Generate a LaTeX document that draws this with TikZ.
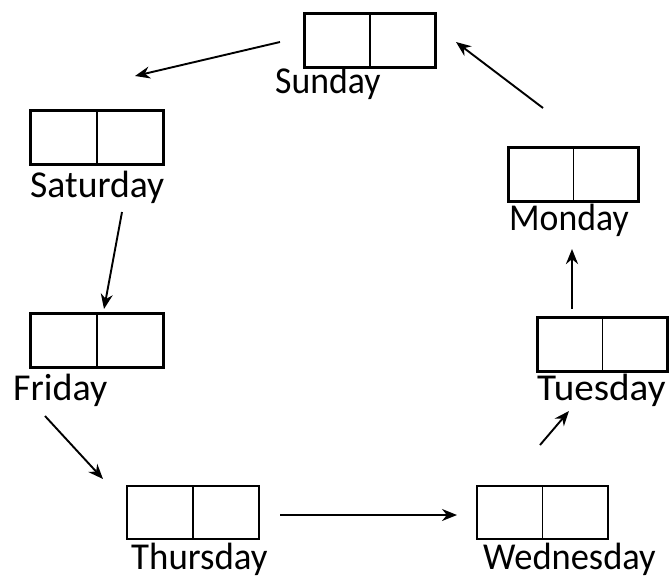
\documentclass[tikz,border=0pt]{standalone}
\usepackage{fontspec}
\setmainfont{Carlito}
\usetikzlibrary{arrows.meta}
\begin{document}
\begin{tikzpicture}[x=1pt,y=-1pt,
  cell/.style={draw,line width=2.8pt,minimum width=#1,minimum height=54pt,inner sep=0pt,anchor=north west,
    path picture={\draw[line width=1.6pt] (path picture bounding box.north) -- (path picture bounding box.south);}},
  cell/.default=131pt,
  thin cell/.style={line width=2.1pt},
  day/.style={anchor=base west,inner sep=0pt,font=\fontsize{38}{38}\selectfont},
  conn/.style={line width=1.9pt,-{Stealth[length=15pt,width=12pt]}}]
\useasboundingbox (0,0) rectangle (670,579);
% boxes
\node[cell] (sun) at (303,12) {};
\node[cell=133pt] (sat) at (29,109) {};
\node[cell=133pt] (fri) at (29,312) {};
\node[cell=130pt] (mon) at (507,146) {};
\node[cell=130pt] (tue) at (536,316) {};
\node[cell=132pt,minimum height=53pt,thin cell] (thu) at (126,485) {};
\node[cell=131pt,minimum height=53pt,thin cell] (wed) at (476,485) {};
% labels
\node[day] (lsun) at (275,93) {\scalebox{0.94}[1]{Sunday}};
\node[day] (lsat) at (30,197) {\scalebox{0.99}[1]{Saturday}};
\node[day] (lfri) at (13,400) {\scalebox{1.0}[1]{Friday}};
\node[day] (lmon) at (509,230) {\scalebox{0.94}[1]{Monday}};
\node[day] (ltue) at (537,400) {\scalebox{1.03}[1]{Tuesday}};
\node[day] (lthu) at (131,569) {\scalebox{0.97}[1]{Thursday}};
\node[day] (lwed) at (483,569) {\scalebox{0.96}[1]{Wednesday}};
% arrow endpoints
\coordinate (a1) at (280,42);  \coordinate (b1) at (135,76);
\coordinate (a2) at (122,212); \coordinate (b2) at (104,309);
\coordinate (a3) at (45,416);  \coordinate (b3) at (103,479);
\coordinate (a4) at (280,515); \coordinate (b4) at (457,515);
\coordinate (a5) at (540,445); \coordinate (b5) at (569,411);
\coordinate (a6) at (572,309); \coordinate (b6) at (572,249);
\coordinate (a7) at (543,108); \coordinate (b7) at (456,42);
\draw[conn] (a1) -- (b1);
\draw[conn] (a2) -- (b2);
\draw[conn] (a3) -- (b3);
\draw[conn] (a4) -- (b4);
\draw[conn] (a5) -- (b5);
\draw[conn,line width=2.8pt] (a6) -- (b6);
\draw[conn] (a7) -- (b7);
\end{tikzpicture}
\end{document}
